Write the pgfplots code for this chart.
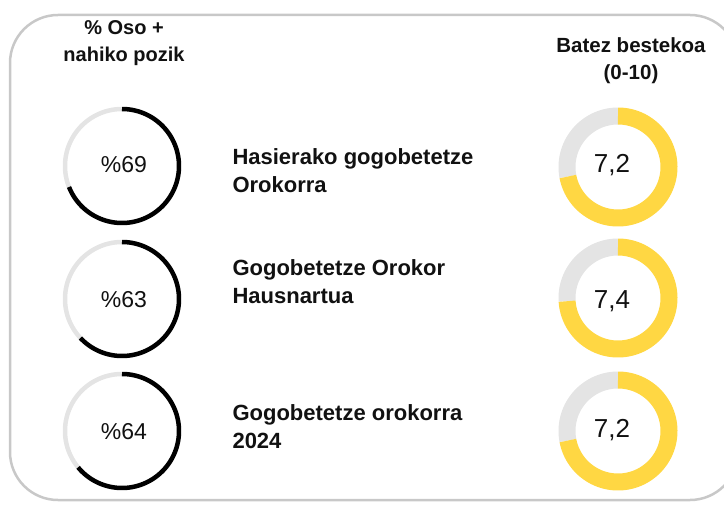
\documentclass[border=0pt]{standalone}
\usepackage{pgfplots}
\pgfplotsset{compat=1.18}
\usepgfplotslibrary{polar}
\usepackage{fontspec}
\setmainfont{Liberation Sans}
\definecolor{ringgray}{HTML}{E4E4E4}
\definecolor{gold}{HTML}{FFD743}
\definecolor{framegray}{HTML}{C8C8C8}
\definecolor{ink}{HTML}{111111}
% percentage ring: #1 x, #2 y (px from top), #3 value (%)
\newcommand{\pctring}[3]{%
\begin{polaraxis}[at={(#1bp,{(506-#2)*1bp})}, anchor=center, scale only axis,
  width=120bp, height=120bp, ymin=0, ymax=60, hide axis, clip=false]
\addplot[ringgray, line width=4.5bp, no markers, domain={-270}:{90-3.6*#3}, samples=120] {57};
\addplot[black, line width=4.5bp, no markers, domain={90-3.6*#3}:90, samples=120] {57};
\end{polaraxis}}
% mean donut: #1 x, #2 y, #3 value (0-10)
\newcommand{\meanring}[3]{%
\begin{polaraxis}[at={(#1bp,{(506-#2)*1bp})}, anchor=center, scale only axis,
  width=120bp, height=120bp, ymin=0, ymax=60, hide axis, clip=false]
\addplot[ringgray, line width=17bp, no markers, domain={-270}:{90-36*#3}, samples=120] {51};
\addplot[gold, line width=17bp, no markers, domain={90-36*#3}:90, samples=120] {51};
\end{polaraxis}}
\begin{document}
\begin{tikzpicture}
\begin{axis}[at={(0,0)}, anchor=south west, scale only axis, width=724bp, height=506bp,
  xmin=0, xmax=724, ymin=0, ymax=506, y dir=reverse, hide axis, clip=true]
\draw[framegray, line width=2.5bp, rounded corners=48bp] (axis cs:10,15) rectangle (axis cs:738,500);
\node[align=center, text=ink, font=\fontsize{20bp}{27bp}\selectfont\bfseries] at (axis cs:124,43) {\% Oso +\\nahiko pozik};
\node[align=center, text=ink, font=\fontsize{20.5bp}{27bp}\selectfont\bfseries] at (axis cs:631,61) {Batez bestekoa\\(0-10)};
\node[anchor=west, align=left, text=ink, font=\fontsize{22bp}{28bp}\selectfont\bfseries] at (axis cs:229,171) {Hasierako gogobetetze\\Orokorra};
\node[anchor=west, align=left, text=ink, font=\fontsize{22bp}{28bp}\selectfont\bfseries] at (axis cs:229,282) {Gogobetetze Orokor\\Hausnartua};
\node[anchor=west, align=left, text=ink, font=\fontsize{22bp}{28bp}\selectfont\bfseries] at (axis cs:229,427) {Gogobetetze orokorra\\2024};
\node[text=ink, font=\fontsize{23bp}{28bp}\selectfont] at (axis cs:124,165) {\%69};
\node[text=ink, font=\fontsize{23bp}{28bp}\selectfont] at (axis cs:124,300) {\%63};
\node[text=ink, font=\fontsize{23bp}{28bp}\selectfont] at (axis cs:124,432) {\%64};
\node[text=ink, font=\fontsize{26bp}{30bp}\selectfont] at (axis cs:612,165) {7,2};
\node[text=ink, font=\fontsize{26bp}{30bp}\selectfont] at (axis cs:612,301) {7,4};
\node[text=ink, font=\fontsize{26bp}{30bp}\selectfont] at (axis cs:612,430) {7,2};
\end{axis}
\pctring{122}{166}{69}
\pctring{122}{299}{63}
\pctring{122}{431}{64}
\meanring{618}{167}{7.2}
\meanring{618}{298}{7.4}
\meanring{618}{431}{7.2}
\pgfresetboundingbox
\useasboundingbox (0,0) rectangle (724bp,506bp);
\end{tikzpicture}
\end{document}
